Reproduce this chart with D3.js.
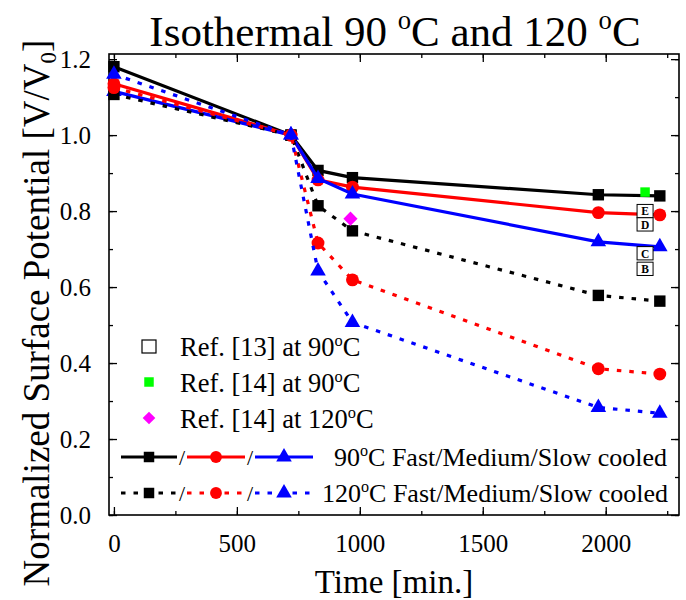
<!DOCTYPE html>
<html>
<head>
<meta charset="utf-8">
<script src="https://cdn.jsdelivr.net/npm/d3@7"></script>
<style>
  html, body { margin: 0; padding: 0; background: #fff; }
  svg { display: block; }
  svg text { font-family: "Liberation Serif", "Times New Roman", serif !important; }
</style>
</head>
<body>
<svg id="chart" width="686" height="600"></svg>
<script>
// ---------- data ----------
const times = [0, 720, 830, 970, 1970, 2220];
const fast90   = [1.180, 1.000, 0.907, 0.888, 0.843, 0.840];
const medium90 = [1.135, 1.000, 0.882, 0.863, 0.796, 0.790];
const slow90   = [1.115, 1.000, 0.886, 0.845, 0.719, 0.706];
const fast120   = [1.107, 1.000, 0.814, 0.748, 0.578, 0.563];
const medium120 = [1.125, 1.000, 0.716, 0.619, 0.385, 0.371];
const slow120   = [1.160, 1.000, 0.642, 0.507, 0.283, 0.268];

const ref13Labels = ["E", "D", "C", "B"];
const ref13Values = [0.800, 0.765, 0.689, 0.648];
const ref13Time = 2160;
const ref14At90 = [{t: 2160, v: 0.850}];
const ref14At120 = [{t: 962, v: 0.780}];

const xTicks = [0, 500, 1000, 1500, 2000];
const yTicks = [0.0, 0.2, 0.4, 0.6, 0.8, 1.0, 1.2];

// ---------- layout ----------
const svg = d3.select("#chart");
const L = 109, R = 679, T = 54, B = 515;
const x = d3.scaleLinear().domain([-20, 2298]).range([L, R]);
const y = d3.scaleLinear().domain([0, 1.2135]).range([B, T]);

const fmtY = d3.format(".1f");
function axisStyle(g) {
  g.attr("font-family", null).attr("font-size", null);
  g.select(".domain").remove();
  g.selectAll("line").attr("stroke", "#000").attr("stroke-width", 1.3);
  g.selectAll("text").attr("fill", "#000").attr("font-size", 25);
}
const xMinor = d3.range(0, 2300, 250);
const yMinor = d3.range(0, 1.21, 0.1);
// bottom
svg.append("g").attr("transform", `translate(0,${B})`)
  .call(d3.axisBottom(x).tickValues(xMinor).tickSize(-4).tickFormat(""))
  .call(axisStyle);
svg.append("g").attr("transform", `translate(0,${B})`)
  .call(d3.axisBottom(x).tickValues(xTicks).tickSize(-8).tickPadding(19).tickFormat(d3.format("d")))
  .call(axisStyle);
// top
svg.append("g").attr("transform", `translate(0,${T})`)
  .call(d3.axisTop(x).tickValues(xMinor).tickSize(-4).tickFormat(""))
  .call(axisStyle);
svg.append("g").attr("transform", `translate(0,${T})`)
  .call(d3.axisTop(x).tickValues(xTicks).tickSize(-8).tickFormat(""))
  .call(axisStyle);
// left
svg.append("g").attr("transform", `translate(${L},0)`)
  .call(d3.axisLeft(y).tickValues(yMinor).tickSize(-4).tickFormat(""))
  .call(axisStyle);
svg.append("g").attr("transform", `translate(${L},0)`)
  .call(d3.axisLeft(y).tickValues(yTicks).tickSize(-8).tickPadding(18).tickFormat(fmtY))
  .call(axisStyle);
// right
svg.append("g").attr("transform", `translate(${R},0)`)
  .call(d3.axisRight(y).tickValues(yMinor).tickSize(-4).tickFormat(""))
  .call(axisStyle);
svg.append("g").attr("transform", `translate(${R},0)`)
  .call(d3.axisRight(y).tickValues(yTicks).tickSize(-8).tickFormat(""))
  .call(axisStyle);

// frame
svg.append("rect").attr("x", L).attr("y", T).attr("width", R - L).attr("height", B - T)
  .attr("fill", "none").attr("stroke", "#000").attr("stroke-width", 1.6);

// ---------- series ----------
const series = [
  {vals: fast90,    color: "#000000", shape: "square",   dotted: false},
  {vals: medium90,  color: "#ff0000", shape: "circle",   dotted: false},
  {vals: slow90,    color: "#0000ff", shape: "triangle", dotted: false},
  {vals: fast120,   color: "#000000", shape: "square",   dotted: true},
  {vals: medium120, color: "#ff0000", shape: "circle",   dotted: true},
  {vals: slow120,   color: "#0000ff", shape: "triangle", dotted: true}
];
const symbolOf = {
  square: d3.symbol().type(d3.symbolSquare).size(130),
  circle: d3.symbol().type(d3.symbolCircle).size(130),
  triangle: d3.symbol().type(d3.symbolTriangle).size(105)
};
const plot = svg.append("g");
series.forEach(s => {
  const pts = times.map((t, i) => [t, s.vals[i]]);
  const line = d3.line().x(d => x(d[0])).y(d => y(d[1])).curve(d3.curveLinear);
  plot.append("path").attr("d", line(pts)).attr("fill", "none")
    .attr("stroke", s.color).attr("stroke-width", 3.2)
    .attr("stroke-dasharray", s.dotted ? "4.5,8" : null);
  plot.selectAll(null).data(pts).enter().append("path")
    .attr("transform", d => `translate(${x(d[0])},${y(d[1])})`)
    .attr("d", symbolOf[s.shape]()).attr("fill", s.color);
});

// Ref [13] labelled boxes
const boxW = 16, boxH = 13.3;
const refG = plot.selectAll(null).data(ref13Labels.map((l, i) => ({l, v: ref13Values[i]})))
  .enter().append("g")
  .attr("transform", d => `translate(${x(ref13Time)},${y(d.v)})`);
refG.append("rect").attr("x", -boxW / 2).attr("y", -boxH / 2).attr("width", boxW).attr("height", boxH)
  .attr("fill", "#fff").attr("stroke", "#000").attr("stroke-width", 1);
refG.append("text").attr("text-anchor", "middle").attr("y", 4.3)
  .attr("font-size", 11.5).attr("font-weight", "bold").text(d => d.l);

// Ref [14]
plot.selectAll(null).data(ref14At90).enter().append("path")
  .attr("transform", d => `translate(${x(d.t)},${y(d.v)})`)
  .attr("d", d3.symbol().type(d3.symbolSquare).size(90)()).attr("fill", "#00ff00");
plot.selectAll(null).data(ref14At120).enter().append("path")
  .attr("transform", d => `translate(${x(d.t)},${y(d.v)}) rotate(45)`)
  .attr("d", d3.symbol().type(d3.symbolSquare).size(100)()).attr("fill", "#ff00ff");

// ---------- legend ----------
const lg = svg.append("g").attr("font-size", 26.5);
function supText(sel, parts) {
  parts.forEach(([t, sup], i) => {
    const ts = sel.append("tspan").text(t);
    if (sup) ts.attr("font-size", "0.62em").attr("dy", "-0.62em");
    else if (i > 0 && parts[i - 1][1]) ts.attr("dy", "0.385em");
  });
}
lg.append("rect").attr("x", 142).attr("y", 340).attr("width", 14).attr("height", 13)
  .attr("fill", "none").attr("stroke", "#000").attr("stroke-width", 1.2);
supText(lg.append("text").attr("x", 180).attr("y", 356), [["Ref. [13] at 90", false], ["o", true], ["C", false]]);
lg.append("path").attr("transform", "translate(149,382)")
  .attr("d", d3.symbol().type(d3.symbolSquare).size(90)()).attr("fill", "#00ff00");
supText(lg.append("text").attr("x", 180).attr("y", 392), [["Ref. [14] at 90", false], ["o", true], ["C", false]]);
lg.append("path").attr("transform", "translate(149,418) rotate(45)")
  .attr("d", d3.symbol().type(d3.symbolSquare).size(80)()).attr("fill", "#ff00ff");
supText(lg.append("text").attr("x", 180).attr("y", 428), [["Ref. [14] at 120", false], ["o", true], ["C", false]]);

function legendRow(yc, dotted, textX, label) {
  const segs = [
    {x0: 121, x1: 177, c: "#000000", shape: d3.symbolSquare, size: 110},
    {x0: 187, x1: 245, c: "#ff0000", shape: d3.symbolCircle, size: 110},
    {x0: 255, x1: 313, c: "#0000ff", shape: d3.symbolTriangle, size: 105}
  ];
  segs.forEach((s, i) => {
    lg.append("line").attr("x1", s.x0).attr("x2", s.x1).attr("y1", yc).attr("y2", yc)
      .attr("stroke", s.c).attr("stroke-width", 3.2).attr("stroke-dasharray", dotted ? "4.5,8" : null);
    lg.append("path").attr("transform", `translate(${(s.x0 + s.x1) / 2},${yc})`)
      .attr("d", d3.symbol().type(s.shape).size(s.size)()).attr("fill", s.c);
    if (i < 2) lg.append("text").attr("x", s.x1 + 5).attr("y", yc + 8).attr("text-anchor", "middle")
      .attr("font-size", 22).text("/");
  });
  supText(lg.append("text").attr("x", textX).attr("y", yc + 9).attr("font-size", 26), label);
}
legendRow(457, false, 334, [["90", false], ["o", true], ["C Fast/Medium/Slow cooled", false]]);
legendRow(493, true, 322, [["120", false], ["o", true], ["C Fast/Medium/Slow cooled", false]]);

// ---------- titles ----------
const title = svg.append("text").attr("x", (L + R) / 2 + 1).attr("y", 46)
  .attr("text-anchor", "middle").attr("font-size", 43);
supText(title, [["Isothermal 90 ", false], ["o", true], ["C and 120 ", false], ["o", true], ["C", false]]);

svg.append("text").attr("x", (L + R) / 2).attr("y", 593).attr("text-anchor", "middle")
  .attr("font-size", 33).text("Time [min.]");

const yl = svg.append("text").attr("transform", "translate(49,313) rotate(-90)")
  .attr("text-anchor", "middle").attr("font-size", 37);
yl.append("tspan").text("Normalized Surface Potential [V/V");
yl.append("tspan").text("0").attr("font-size", "0.62em").attr("dy", "0.3em");
yl.append("tspan").text("]").attr("dy", "-0.19em");
</script>
</body>
</html>
